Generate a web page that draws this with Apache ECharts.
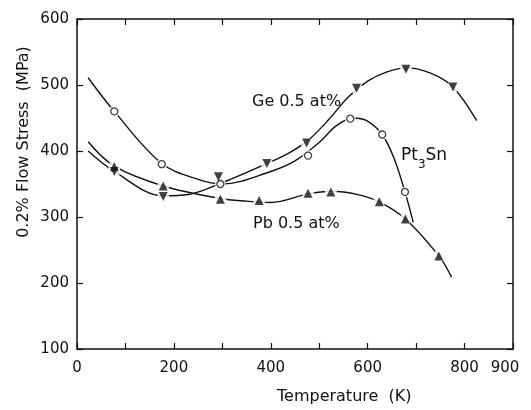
<!DOCTYPE html>
<html>
<head>
<meta charset="utf-8">
<script src="https://cdn.jsdelivr.net/npm/echarts@6/dist/echarts.min.js"></script>
<style>
  html, body { margin: 0; padding: 0; background: #fff; }
  #chart { width: 531px; height: 410px; }
</style>
</head>
<body>
<div id="chart"></div>
<script>
// curves (temperature K, stress MPa)
const ptCurve = [[23, 511], [77, 460], [175, 381], [250, 357], [300, 350], [400, 369], [450, 385], [500, 413], [535, 438], [570, 450], [598, 446], [630, 425], [655, 388], [677, 338], [694, 292]]
const geCurve = [[23, 400], [77, 369], [178, 332], [230, 334], [300, 352], [392, 381], [440, 398], [480, 418], [520, 448], [560, 482], [600, 506], [640, 520], [680, 526], [730, 518], [776, 497], [825, 446]]
const pbCurve = [[23, 414], [77, 377], [178, 347], [296, 328], [350, 324], [400, 322], [477, 335], [524, 339], [580, 334], [624, 323], [678, 297], [747, 241], [773, 209]]

// measured points
const ptX = [77, 175, 296, 477, 564, 630, 677]
const ptY = [460, 380, 350, 393, 449, 425, 338]
const geX = [77, 178, 292, 392, 474, 577, 679, 776]
const geY = [369, 331, 361, 381, 412, 495, 524, 497]
const pbX = [77, 178, 296, 376, 477, 524, 624, 678, 747]
const pbY = [376, 347, 327, 325, 336, 338, 323, 297, 241]

const xTickLabels = ['0', '200', '400', '600', '800', '900']

const zip = (xs, ys) => xs.map((x, i) => [x, ys[i]])

const myChart = echarts.init(document.getElementById('chart'))
const font = 'DejaVu Sans'
const ink = '#111'

const axisCommon = {
  type: 'value',
  axisLine: { show: true, onZero: false, lineStyle: { color: ink, width: 1.5 } },
  axisTick: { show: true, inside: true, length: 6, lineStyle: { color: ink, width: 1.2 } },
  splitLine: { show: false }
}

const lineSeries = (data) => ({
  type: 'line',
  data: data,
  smooth: 0.35,
  showSymbol: false,
  symbol: 'none',
  lineStyle: { color: ink, width: 1.4 },
  z: 2,
  silent: true
})

const halo = (data, size) => ({
  type: 'scatter',
  data: data,
  symbol: 'circle',
  symbolSize: size,
  itemStyle: { color: '#fff' },
  z: 3,
  silent: true
})

const option = {
  animation: false,
  backgroundColor: '#fff',
  grid: { left: 77, right: 18, top: 19, bottom: 61 },
  xAxis: [
    {
      ...axisCommon,
      min: 0, max: 900, interval: 100,
      axisLabel: {
        color: ink, fontFamily: font, fontSize: 15, margin: 12,
        formatter: (v) => {
          const s = String(v)
          if (!xTickLabels.includes(s)) return ''
          return s === '900' ? '{r|900}' : s
        },
        rich: { r: { fontFamily: font, fontSize: 15, color: ink, padding: [0, 16, 0, 0] } }
      }
    },
    {
      ...axisCommon,
      position: 'top',
      min: 0, max: 900, interval: 100,
      axisLabel: { show: false }
    }
  ],
  yAxis: [
    {
      ...axisCommon,
      min: 100, max: 600, interval: 100,
      axisLabel: { color: ink, fontFamily: font, fontSize: 15, margin: 8, padding: [4, 0, 0, 0] }
    },
    {
      ...axisCommon,
      position: 'right',
      min: 100, max: 600, interval: 100,
      axisLabel: { show: false }
    }
  ],
  series: [
    lineSeries(ptCurve),
    lineSeries(geCurve),
    lineSeries(pbCurve),
    halo(zip(ptX, ptY), 11),
    halo(zip(geX, geY), 12),
    halo(zip(pbX, pbY), 12),
    {
      type: 'scatter',
      data: zip(ptX, ptY),
      symbol: 'circle',
      symbolSize: 7,
      itemStyle: { color: '#fff', borderColor: ink, borderWidth: 1.3 },
      z: 4
    },
    {
      type: 'scatter',
      data: zip(geX, geY),
      symbol: 'triangle',
      symbolRotate: 180,
      symbolSize: 9,
      itemStyle: { color: ink },
      z: 4
    },
    {
      type: 'scatter',
      data: zip(pbX, pbY),
      symbol: 'triangle',
      symbolSize: 9,
      itemStyle: { color: ink },
      z: 4
    }
  ],
  graphic: [
    {
      type: 'text', left: 252, top: 94, z: 10,
      style: { text: 'Ge 0.5 at%', fontFamily: font, fontSize: 16, fill: ink }
    },
    {
      type: 'text', left: 253, top: 216, z: 10,
      style: { text: 'Pb 0.5 at%', fontFamily: font, fontSize: 16, fill: ink }
    },
    {
      type: 'text', left: 401, top: 147, z: 10,
      style: {
        text: '{a|Pt}{s|3}{a|Sn}',
        rich: {
          a: { fontFamily: font, fontSize: 17, fill: ink, verticalAlign: 'top' },
          s: { fontFamily: font, fontSize: 12, fill: ink, padding: [12, 0, 0, 0] }
        }
      }
    },
    {
      type: 'text', left: 277, top: 389, z: 10,
      style: { text: 'Temperature  (K)', fontFamily: font, fontSize: 16, fill: ink }
    },
    {
      type: 'text', x: 24, y: 142, rotation: Math.PI / 2, z: 10,
      style: {
        text: '0.2% Flow Stress  (MPa)', fontFamily: font, fontSize: 16, fill: ink,
        align: 'center', verticalAlign: 'middle'
      }
    }
  ]
}

option && myChart.setOption(option)
</script>
</body>
</html>
